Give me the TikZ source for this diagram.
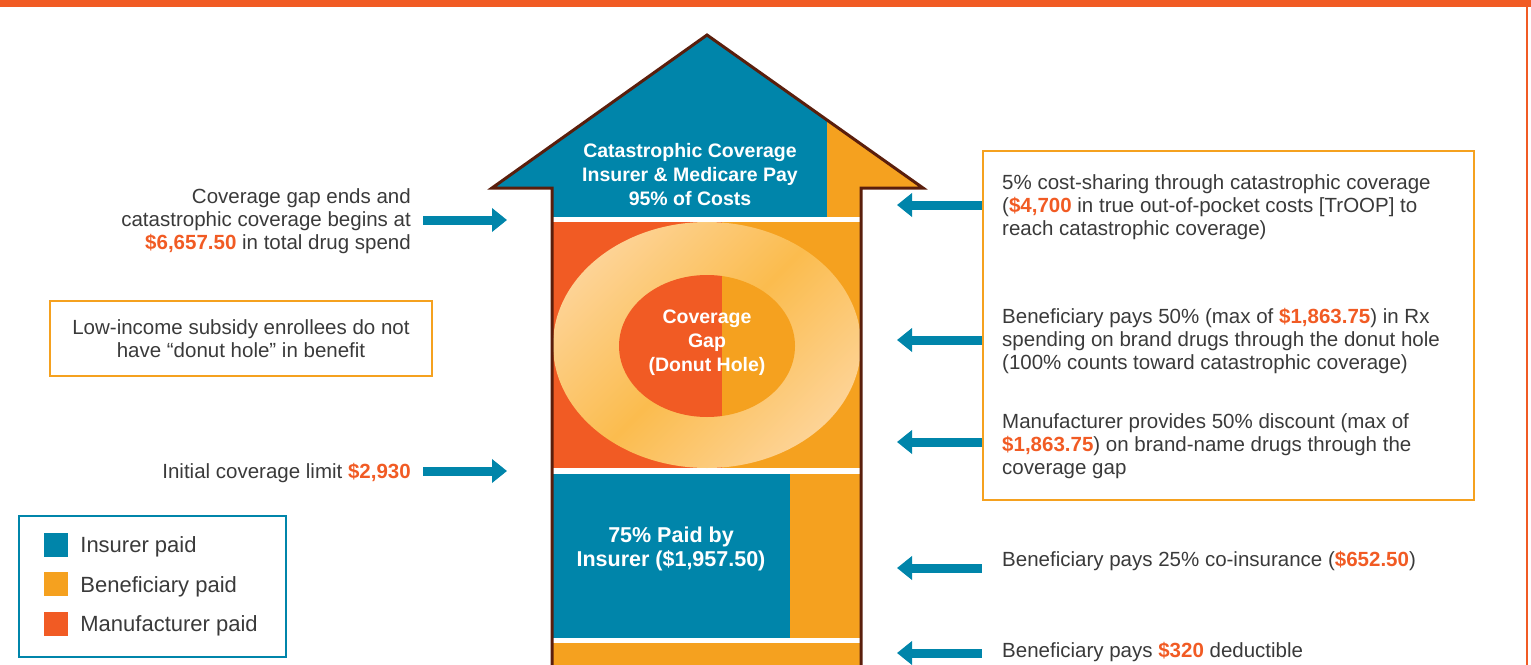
\documentclass[tikz,border=0pt]{standalone}
\usepackage{fontspec}
\setmainfont{Liberation Sans}
\usetikzlibrary{positioning,arrows.meta}

\definecolor{insblue}{HTML}{0085AA}
\definecolor{benorange}{HTML}{F5A11F}
\definecolor{mfrred}{HTML}{F15B24}
\definecolor{ringlight}{HTML}{FDD395}
\definecolor{ringdark}{HTML}{FBBC4E}
\definecolor{housebrown}{HTML}{5A1E0C}
\definecolor{notegray}{HTML}{3A3A3A}
\newcommand{\amt}[1]{\textbf{\textcolor{mfrred}{#1}}}

\begin{document}
\begin{tikzpicture}[
  x=1bp, y=-1bp,
  node distance=12bp,
  note/.style={font=\fontsize{20.5bp}{23bp}\selectfont, text=notegray, inner sep=0pt},
  legendtext/.style={font=\fontsize{22bp}{24bp}\selectfont, text=notegray, inner sep=0pt, yshift=-2bp},
  housetext/.style={font=\fontsize{19.5bp}{24bp}\selectfont\bfseries, text=white, align=center, inner sep=0pt},
  infobox/.style={draw=benorange, line width=2.5bp},
  swatch/.style={minimum size=24bp, inner sep=0pt},
  payarrow/.style={insblue, line width=9bp, -{Triangle[length=15bp,width=23bp]}}
]
\useasboundingbox (0,0) rectangle (1531,665);

% Page frame
\fill[mfrred] (0,0) rectangle (1531,7.3);
\fill[mfrred] (1525.5,7) rectangle (1527.5,665);

% Catastrophic roof
\begin{scope}
  \clip (707,35) -- (923,188) -- (861,188) -- (861,217) -- (552,217) -- (552,188) -- (492,188) -- cycle;
  \fill[insblue] (480,30) rectangle (827,217);
  \fill[benorange] (827,30) rectangle (930,217);
\end{scope}

% Coverage gap (donut)
\fill[mfrred] (552,222) rectangle (722,468);
\fill[benorange] (722,222) rectangle (861,468);
\begin{scope}
  \clip (552,222) rectangle (861,468);
  \shade[top color=ringlight, bottom color=ringlight, middle color=ringdark, shading angle=45]
    (707,345) ellipse [x radius=154, y radius=123];
\end{scope}
\begin{scope}
  \clip (600,260) rectangle (722,430);
  \fill[mfrred] (707,346) ellipse [x radius=88, y radius=71];
\end{scope}
\begin{scope}
  \clip (722,260) rectangle (810,430);
  \fill[benorange] (707,346) ellipse [x radius=88, y radius=71];
\end{scope}

% Initial coverage and deductible
\fill[insblue] (552,474) rectangle (790,638);
\fill[benorange] (790,474) rectangle (861,638);
\fill[benorange] (552,643) rectangle (861,666);

% House outline
\draw[housebrown, line width=3bp, line join=miter]
  (552,668) -- (552,188) -- (492,188) -- (707,35) -- (923,188) -- (861,188) -- (861,668);

% Labels inside the house
\node[housetext] (cattext) at (690,175) {Catastrophic Coverage\\Insurer \& Medicare Pay\\95\% of Costs};
\node[housetext] (gaptext) at (707,343) {Coverage\\Gap\\(Donut Hole)};
\node[housetext, font=\fontsize{21.5bp}{24bp}\selectfont\bfseries] (instext) at (671,549) {75\% Paid by\\Insurer (\$1,957.50)};

% Left side notes
\node[note, align=right, anchor=east] (gapend) at (411,221)
  {Coverage gap ends and\\catastrophic coverage begins at\\\amt{\$6,657.50} in total drug spend};
\node[note, anchor=east] (initlimit) at (411,473) {Initial coverage limit \amt{\$2,930}};
\node[note, infobox, align=center, minimum width=382bp, minimum height=75bp] (lisbox) at (241,338.5)
  {Low-income subsidy enrollees do not\\have “donut hole” in benefit};

% Legend
\node[draw=insblue, line width=2.5bp, minimum width=267bp, minimum height=141bp, inner sep=0pt] (legend) at (152.5,586.5) {};
\node[swatch, fill=insblue] (sqins) at (56,545) {};
\node[swatch, fill=benorange, below=15bp of sqins] (sqben) {};
\node[swatch, fill=mfrred, below=15bp of sqben] (sqmfr) {};
\node[legendtext, right=of sqins] (lgins) {Insurer paid};
\node[legendtext, right=of sqben] (lgben) {Beneficiary paid};
\node[legendtext, right=of sqmfr] (lgmfr) {Manufacturer paid};

% Right side notes
\node[infobox, minimum width=491bp, minimum height=349bp] (rbox) at (1228.5,325.5) {};
\node[note, align=left, anchor=west] (catshare) at (1002,207)
  {5\% cost-sharing through catastrophic coverage\\(\amt{\$4,700} in true out-of-pocket  costs [TrOOP] to\\reach catastrophic coverage)};
\node[note, align=left, anchor=west] (benhalf) at (1002,341)
  {Beneficiary pays 50\% (max of \amt{\$1,863.75}) in Rx\\spending on brand drugs through the donut hole\\(100\% counts toward catastrophic coverage)};
\node[note, align=left, anchor=west] (mfrdisc) at (1002,446)
  {Manufacturer provides 50\% discount (max of\\\amt{\$1,863.75}) on brand-name drugs through the\\coverage gap};
\node[note, anchor=west] (coins) at (1002,561) {Beneficiary pays 25\% co-insurance (\amt{\$652.50})};
\node[note, anchor=west] (deduct) at (1002,652) {Beneficiary pays \amt{\$320} deductible};

% Arrows into the house
\coordinate (tailgap) at (423,220);
\coordinate (tipgap) at (507,220);
\coordinate (tailinit) at (423,471);
\coordinate (tipinit) at (507,471);
\draw[payarrow] (tailgap) -- (tipgap);
\draw[payarrow] (tailinit) -- (tipinit);

\coordinate (tipcat) at (897,205);
\coordinate (tipben) at (897,340);
\coordinate (tipmfr) at (897,442);
\coordinate (tipcoins) at (897,568);
\coordinate (tipded) at (897,653);
\draw[payarrow] (rbox.west |- tipcat) -- (tipcat);
\draw[payarrow] (rbox.west |- tipben) -- (tipben);
\draw[payarrow] (rbox.west |- tipmfr) -- (tipmfr);
\draw[payarrow] (rbox.west |- tipcoins) -- (tipcoins);
\draw[payarrow] (rbox.west |- tipded) -- (tipded);

\end{tikzpicture}
\end{document}
